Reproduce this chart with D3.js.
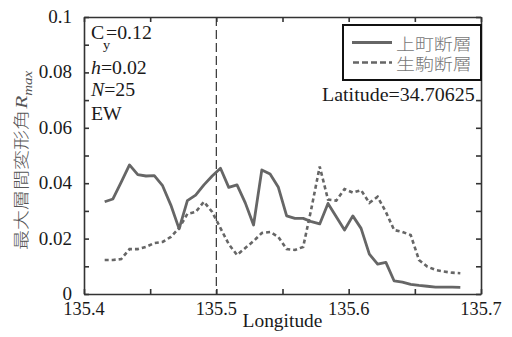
<!DOCTYPE html>
<html><head><meta charset="utf-8">
<script src="https://cdn.jsdelivr.net/npm/d3@7"></script>
<style>html,body{margin:0;padding:0;background:#fff;}svg{display:block;}</style>
</head><body>
<svg id="chart" width="512" height="337"></svg>
<script>
// ---- data ----
const longitude = [135.415625,135.421875,135.428125,135.434375,135.440625,135.446875,135.453125,135.459375,135.465625,135.471875,135.478125,135.484375,135.490625,135.496875,135.503125,135.509375,135.515625,135.521875,135.528125,135.534375,135.540625,135.546875,135.553125,135.559375,135.565625,135.571875,135.578125,135.584375,135.590625,135.596875,135.603125,135.609375,135.615625,135.621875,135.628125,135.634375,135.640625,135.646875,135.653125,135.659375,135.665625,135.671875,135.678125,135.684375];
const uemachi = [0.0333,0.0343,0.0404,0.0466,0.0431,0.0426,0.0427,0.0391,0.0321,0.0235,0.0337,0.0357,0.0394,0.0426,0.0454,0.0385,0.0394,0.0329,0.0249,0.0448,0.0433,0.0385,0.0282,0.0273,0.0273,0.0261,0.0253,0.0327,0.0279,0.0231,0.0282,0.0237,0.0144,0.0108,0.0114,0.0047,0.0043,0.0035,0.0031,0.0028,0.0025,0.0025,0.0025,0.0024];
const ikoma = [0.0123,0.0123,0.0126,0.0162,0.0162,0.0170,0.0184,0.0188,0.0206,0.0238,0.0289,0.0296,0.0333,0.0296,0.0238,0.0180,0.0141,0.0166,0.0191,0.0220,0.0224,0.0206,0.0162,0.0159,0.0170,0.0310,0.0460,0.0341,0.0337,0.0379,0.0366,0.0375,0.0329,0.0351,0.0296,0.0231,0.0224,0.0213,0.0123,0.0099,0.0087,0.0081,0.0077,0.0075];
const seriesNames = ["上町断層","生駒断層"];
const xTicks = [135.4,135.45,135.5,135.55,135.6,135.65,135.7];
const xTickLabels = ["135.4","","135.5","","135.6","","135.7"];
const yTicks = [0,0.01,0.02,0.03,0.04,0.05,0.06,0.07,0.08,0.09,0.1];
const yTickLabels = ["0","","0.02","","0.04","","0.06","","0.08","","0.1"];
const faultLine = 135.5;

const serif = "Liberation Serif, Times New Roman, serif";
const cjk = "Noto Sans CJK JP, Noto Sans CJK SC, sans-serif";
const svg = d3.select("#chart");
const L = 84, R = 481, T = 17, B = 294;
const x = d3.scaleLinear().domain([135.4,135.7]).range([L,R]);
const y = d3.scaleLinear().domain([0,0.1]).range([B,T]);

function stext(str, px, py, o) {
  o = o || {};
  return svg.append("text")
    .attr("transform", `translate(${px},${py}) scale(${o.sx||1.1},1)`)
    .attr("text-anchor", o.anchor || "start")
    .attr("font-family", o.family || serif)
    .attr("font-size", o.size || 18)
    .attr("font-weight", o.weight || "normal")
    .attr("font-style", o.style || "normal")
    .attr("fill", o.fill || "#1a1a1a")
    .text(str);
}

// dashed vertical line
svg.append("line").attr("x1", x(faultLine)).attr("x2", x(faultLine))
  .attr("y1", T).attr("y2", B).attr("stroke", "#333").attr("stroke-width", 1.2)
  .attr("stroke-dasharray", "9,4");

// series
const line = d3.line().x(d => x(d[0])).y(d => y(d[1]));
svg.append("path").datum(longitude.map((v,i)=>[v,uemachi[i]]))
  .attr("d", line).attr("fill","none").attr("stroke","#666").attr("stroke-width",2.8)
  .attr("stroke-linejoin","round");
svg.append("path").datum(longitude.map((v,i)=>[v,ikoma[i]]))
  .attr("d", line).attr("fill","none").attr("stroke","#666").attr("stroke-width",2.6)
  .attr("stroke-dasharray","4,3");

// axes (ticks inward)
function styleAxis(g){ g.selectAll("path,line").attr("stroke","#333").attr("stroke-width",1.6); g.selectAll("text").remove(); }
svg.append("g").attr("transform",`translate(0,${B})`).call(d3.axisBottom(x).tickValues(xTicks).tickSize(-5).tickSizeOuter(0)).call(styleAxis);
svg.append("g").attr("transform",`translate(0,${T})`).call(d3.axisTop(x).tickValues(xTicks).tickSize(-5).tickSizeOuter(0)).call(styleAxis);
svg.append("g").attr("transform",`translate(${L},0)`).call(d3.axisLeft(y).tickValues(yTicks).tickSize(-5).tickSizeOuter(0)).call(styleAxis);
svg.append("g").attr("transform",`translate(${R},0)`).call(d3.axisRight(y).tickValues(yTicks).tickSize(-5).tickSizeOuter(0)).call(styleAxis);

// tick labels
xTicks.forEach((t,i)=>{ if (xTickLabels[i]) stext(xTickLabels[i], x(t), B+21, {anchor:"middle", sx:1.02}); });
yTicks.forEach((t,i)=>{ if (yTickLabels[i]) stext(yTickLabels[i], 72, y(t)+6, {anchor:"end", sx:1.06}); });

// axis titles
stext("Longitude", (L+R)/2, 327, {anchor:"middle", sx:1.08});
const yl = svg.append("text")
  .attr("transform", "translate(27,250) rotate(-90) scale(1.25,1)")
  .attr("font-size", 16).attr("fill", "#555");
yl.append("tspan").attr("font-family", cjk).attr("font-weight", 300).text("最大層間変形角");
yl.append("tspan").attr("font-family", serif).attr("font-style","italic").attr("font-size",17).attr("dx",1).text("R");
yl.append("tspan").attr("font-family", serif).attr("font-style","italic").attr("font-size",12).attr("dy",5).text("max");

// annotations
stext("C", 91, 39);
stext("y", 103, 49, {size:13});
stext("=0.12", 106, 39);
const hT = stext("", 91, 74); hT.append("tspan").attr("font-style","italic").text("h"); hT.append("tspan").text("=0.02");
const nT = stext("", 91, 96); nT.append("tspan").attr("font-style","italic").text("N"); nT.append("tspan").text("=25");
stext("EW", 91, 120);
stext("Latitude=34.70625", 322, 101, {sx:1.11});

// legend
svg.append("rect").attr("x",343).attr("y",25).attr("width",138).attr("height",55)
  .attr("fill","#fff").attr("stroke","#111").attr("stroke-width",2);
svg.append("line").attr("x1",352).attr("x2",392).attr("y1",42.5).attr("y2",42.5)
  .attr("stroke","#666").attr("stroke-width",2.8);
svg.append("line").attr("x1",353).attr("x2",392).attr("y1",62.5).attr("y2",62.5)
  .attr("stroke","#666").attr("stroke-width",2.6).attr("stroke-dasharray","6,3");
stext(seriesNames[0], 396, 50, {family:cjk, size:15.5, sx:1.22, fill:"#777", weight:300});
stext(seriesNames[1], 396, 70, {family:cjk, size:15.5, sx:1.22, fill:"#777", weight:300});
</script>
</body></html>
